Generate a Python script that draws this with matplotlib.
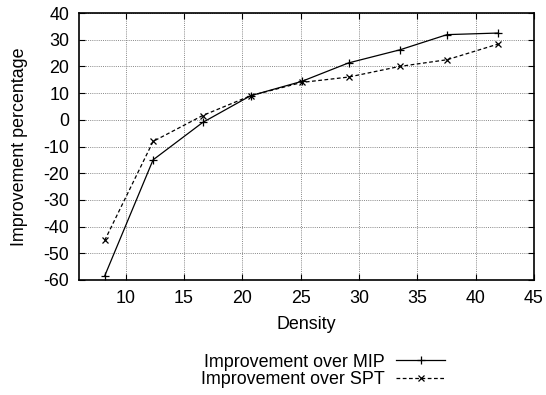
import matplotlib
matplotlib.use("Agg")
import matplotlib.pyplot as plt

plt.rcParams['font.family'] = ['Liberation Sans', 'DejaVu Sans']
plt.rcParams['font.size'] = 12.9
plt.rcParams['axes.unicode_minus'] = False

density = [8.2, 12.35, 16.6, 20.7, 25.1, 29.1, 33.5, 37.55, 41.95]
mip = [-58.5, -15.0, -1.0, 9.0, 14.4, 21.3, 26.2, 31.9, 32.5]
spt = [-45.2, -8.1, 1.6, 9.0, 14.0, 16.0, 20.0, 22.5, 28.4]

fig = plt.figure(figsize=(5.46, 3.95), dpi=100)
ax = fig.add_axes([79 / 546, 1 - 280 / 395, (534 - 79) / 546, (280 - 13) / 395])

ax.plot(density, mip, color='black', linewidth=0.9, marker='+', markersize=6,
        markeredgewidth=0.9, label='Improvement over MIP')
ax.plot(density, spt, color='black', linewidth=0.9, linestyle=(0, (3, 2)), marker='x',
        markersize=4.5, markeredgewidth=0.9, label='Improvement over SPT')

ax.set_xlim(6, 45)
ax.set_ylim(-60, 40)
ax.set_xticks(range(10, 46, 5))
ax.set_yticks(range(-60, 41, 10))
ax.grid(True, color='#888888', linestyle=(0, (1, 1.2)), linewidth=0.7)
ax.tick_params(direction='in', top=True, right=True, length=4, width=0.8, pad=7)
for s in ax.spines.values():
    s.set_linewidth(1.2)

ax.set_xlabel('Density', labelpad=7)
ax.set_ylabel('Improvement percentage', labelpad=11)

fig.legend(loc='center', bbox_to_anchor=(323 / 546, 1 - 371 / 395), frameon=False,
           markerfirst=False, handlelength=2.75, labelspacing=0.05, handletextpad=0.65,
           borderpad=0, fontsize=12.9)

fig.savefig('out.png', dpi=100)
